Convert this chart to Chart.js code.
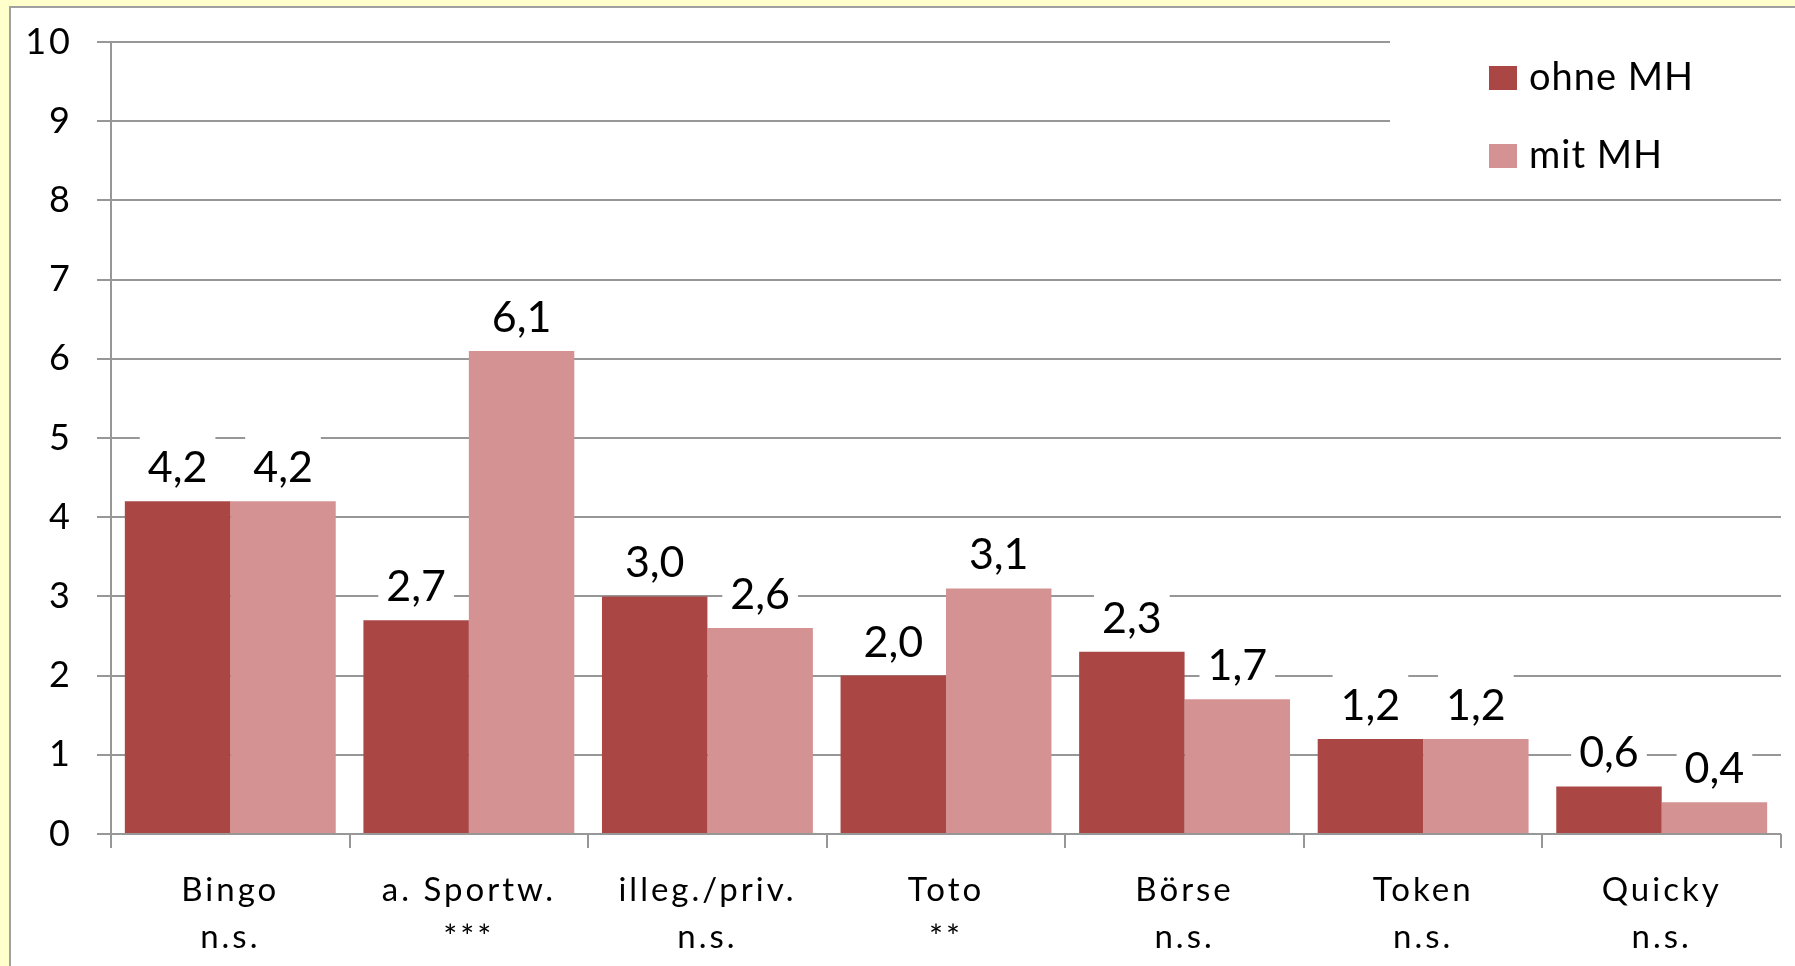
<!DOCTYPE html>
<html>
<head>
<meta charset="utf-8">
<script src="https://cdn.jsdelivr.net/npm/chart.js@4.4.0/dist/chart.umd.min.js"></script>
<style>
  html, body { margin: 0; padding: 0; background: #ffffcc; }
  canvas { display: block; }
</style>
</head>
<body>
<canvas id="gamblingChart" width="1795" height="966"></canvas>
<script>
// Chart data
const categories = ['Bingo', 'a. Sportw.', 'illeg./priv.', 'Toto', 'Börse', 'Token', 'Quicky'];
const significance = ['n.s.', '***', 'n.s.', '**', 'n.s.', 'n.s.', 'n.s.'];
const ohneMH = [4.2, 2.7, 3.0, 2.0, 2.3, 1.2, 0.6];
const mitMH = [4.2, 6.1, 2.6, 3.1, 1.7, 1.2, 0.4];
const seriesNames = ['ohne MH', 'mit MH'];
const yMin = 0;
const yMax = 10;
const yStep = 1;

const colorOhne = '#aa4745';
const colorMit = '#d49292';
const gridColor = '#979797';
const fontFamily = 'Lato, "Open Sans", sans-serif';

// Yellow page with white panel behind the chart
const panelPlugin = {
    id: 'panel',
    beforeDraw(chart) {
        const ctx = chart.ctx;
        ctx.save();
        ctx.fillStyle = '#ffffcc';
        ctx.fillRect(0, 0, chart.width, chart.height);
        ctx.fillStyle = '#ffffff';
        ctx.fillRect(10, 7, chart.width - 10, chart.height - 7);
        ctx.strokeStyle = '#a0a0a0';
        ctx.lineWidth = 2;
        ctx.beginPath();
        ctx.moveTo(10, chart.height);
        ctx.lineTo(10, 7);
        ctx.lineTo(chart.width, 7);
        ctx.stroke();
        ctx.restore();
        // category labels are slightly spaced out in the original
        ctx.letterSpacing = '3px';
    }
};

// Value labels above bars, on a white box that hides the grid line
const valueLabelPlugin = {
    id: 'valueLabels',
    afterDatasetsDraw(chart) {
        const ctx = chart.ctx;
        ctx.save();
        ctx.letterSpacing = '0px';
        ctx.font = '43px ' + fontFamily;
        ctx.textAlign = 'center';
        ctx.textBaseline = 'alphabetic';
        chart.data.datasets.forEach((ds, i) => {
            const meta = chart.getDatasetMeta(i);
            meta.data.forEach((bar, j) => {
                const text = ds.data[j].toFixed(1).replace('.', ',');
                const w = ctx.measureText(text).width;
                const base = bar.y - 19;
                ctx.fillStyle = '#ffffff';
                ctx.fillRect(bar.x - w / 2 - 8, base - 46, w + 16, 54);
                ctx.fillStyle = '#000000';
                ctx.fillText(text, bar.x, base);
            });
        });
        ctx.restore();
    }
};

// Legend box in the top right corner of the plot
const legendPlugin = {
    id: 'boxLegend',
    afterDatasetsDraw(chart) {
        const ctx = chart.ctx;
        const area = chart.chartArea;
        const left = area.right - 391;
        ctx.save();
        ctx.fillStyle = '#ffffff';
        ctx.fillRect(left, area.top - 8, area.right - left + 2, 150);
        ctx.font = '38px ' + fontFamily;
        ctx.letterSpacing = '1px';
        ctx.textAlign = 'left';
        ctx.textBaseline = 'middle';
        chart.data.datasets.forEach((ds, i) => {
            const cy = area.top + 36 + i * 78;
            ctx.fillStyle = ds.backgroundColor;
            ctx.fillRect(left + 99, cy - 12, 28, 24);
            ctx.fillStyle = '#000000';
            ctx.fillText(ds.label, left + 139, cy);
        });
        ctx.restore();
    }
};

const ctx = document.getElementById('gamblingChart').getContext('2d');

const gamblingChart = new Chart(ctx, {
    type: 'bar',
    data: {
        labels: categories.map((c, i) => [c, significance[i]]),
        datasets: [{
            label: seriesNames[0],
            data: ohneMH,
            backgroundColor: colorOhne,
            borderWidth: 0
        }, {
            label: seriesNames[1],
            data: mitMH,
            backgroundColor: colorMit,
            borderWidth: 0
        }]
    },
    options: {
        responsive: false,
        animation: false,
        events: [],
        layout: {
            padding: { left: 0, top: 42, right: 14, bottom: 0 }
        },
        datasets: {
            bar: {
                categoryPercentage: 0.884,
                barPercentage: 1.0
            }
        },
        plugins: {
            legend: { display: false },
            tooltip: { enabled: false }
        },
        scales: {
            x: {
                offset: true,
                grid: {
                    offset: true,
                    drawOnChartArea: false,
                    drawTicks: true,
                    tickLength: 14,
                    color: gridColor,
                    lineWidth: 2
                },
                border: { display: false },
                ticks: {
                    color: '#000000',
                    padding: 18,
                    maxRotation: 0,
                    autoSkip: false,
                    font: { family: fontFamily, size: 33, lineHeight: 1.45 }
                },
                afterFit(scale) {
                    scale.height = 132;
                }
            },
            y: {
                min: yMin,
                max: yMax,
                grid: {
                    color: gridColor,
                    lineWidth: 2,
                    drawTicks: true,
                    tickLength: 14
                },
                border: { display: true, color: gridColor, width: 2 },
                ticks: {
                    stepSize: yStep,
                    color: '#000000',
                    padding: 24,
                    font: { family: fontFamily, size: 36 }
                },
                afterFit(scale) {
                    scale.width = 111;
                    scale.paddingTop = 0;
                    scale.paddingBottom = 0;
                }
            }
        }
    },
    plugins: [panelPlugin, valueLabelPlugin, legendPlugin]
});
</script>
</body>
</html>
